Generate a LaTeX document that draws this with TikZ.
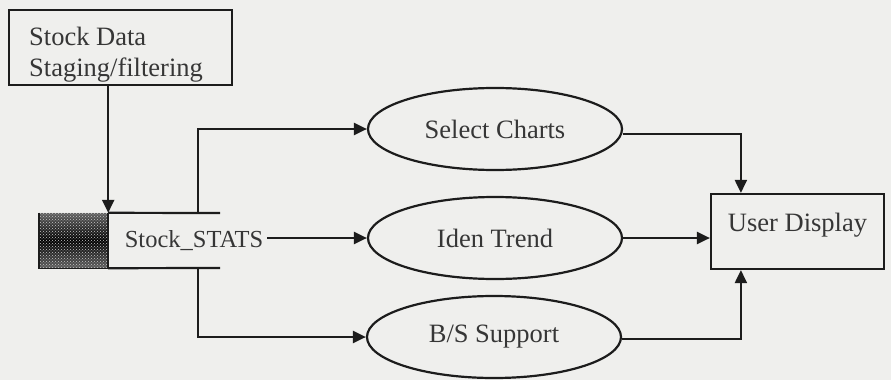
\documentclass[tikz,border=0pt]{standalone}
\usepackage{fontspec}
\setmainfont{Liberation Serif}
\usetikzlibrary{shapes.geometric,arrows.meta,patterns}
\definecolor{paper}{HTML}{EFEFED}
\definecolor{ink}{HTML}{1C1C1C}
\definecolor{txt}{HTML}{363636}
\newcommand{\lblfont}{\fontsize{26.5}{31}\selectfont}
\tikzset{
  lbl/.style={text=txt,font=\lblfont,inner sep=0pt},
  boxed/.style={draw=ink,line width=2.2pt,rectangle,inner sep=0pt},
  proc/.style={draw=ink,line width=2.2pt,ellipse,minimum width=254pt,minimum height=82pt,inner sep=0pt,
    text=txt,font=\lblfont},
  flow/.style={draw=ink,line width=2.2pt},
  arr/.style={flow,-{Triangle[length=13pt,width=12pt]}},
}
\begin{document}
\begin{tikzpicture}[x=1pt,y=-1pt]
  \fill[paper] (0,0) rectangle (891,380);
  \useasboundingbox (0,0) rectangle (891,380);

  % source box
  \node[boxed,minimum width=223pt,minimum height=75pt] (src) at (120.5,47.5) {};
  \node[lbl,anchor=base west] (src1) at (29,45) {Stock Data};
  \node[lbl,anchor=base west] (src2) at (29,76) {Staging/filtering};

  % data store: dark dotted block with open-ended rails
  \node[rectangle,minimum width=69pt,minimum height=55pt,inner sep=0pt,
        top color=black!62,bottom color=black!62,middle color=black] (store) at (73.5,240.5) {};
  \path[pattern=crosshatch dots,pattern color=white!55!gray] (store.north west) rectangle (store.south east);
  \draw[ink,line width=1.4pt] (store.north west) -- (store.south west) -- (store.south east);
  \coordinate (tr) at (220,213);
  \coordinate (br) at (220,268);
  \coordinate (bu) at (198,213);
  \coordinate (bd) at (198,268);
  \draw[flow] (store.north east) -- (tr);
  \draw[flow] (store.south east) -- (br);
  \draw[flow] (store.north east) -- (store.south east);
  \node[lbl,font=\fontsize{24.5}{31}\selectfont,anchor=center] (stats) at (194,241) {Stock\_STATS};

  % processes
  \node[proc] (sel)  at (495,129) {Select Charts};
  \node[proc] (iden) at (495,238) {Iden Trend};
  \node[proc] (bss)  at (494,337) {B/S Support};

  % output
  \node[boxed,minimum width=173pt,minimum height=75pt,text=txt,
        font=\lblfont,text depth=18pt] (disp) at (797.5,231.5) {User Display};

  % flows
  \draw[arr] (src.south -| store.north east) -- (store.north east);
  \draw[arr] (bu) |- (sel.west);
  \draw[arr] ([xshift=4pt]stats.east |- iden.west) -- (iden.west);
  \draw[arr] (bd) |- (bss.west);
  \draw[arr] ([yshift=-5pt]sel.east) -| ([xshift=31pt]disp.north west);
  \draw[arr] (iden.east) -- (iden.east -| disp.west);
  \draw[arr] ([yshift=-2pt]bss.east) -| ([xshift=31pt]disp.south west);
\end{tikzpicture}
\end{document}
